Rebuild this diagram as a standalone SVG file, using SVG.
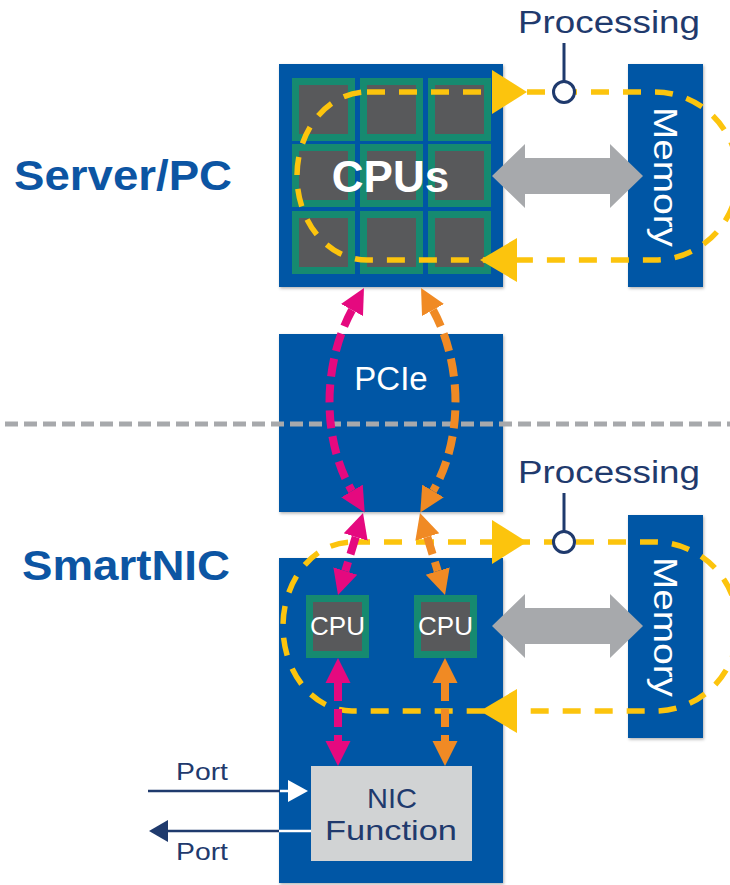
<svg xmlns="http://www.w3.org/2000/svg" width="730" height="885" viewBox="0 0 730 885">
<style>
.box{fill:#0356a5;filter:url(#sh)}
.cell{fill:#168a70}
.core{fill:#58595b}
.mem{fill:#0356a5;filter:url(#sh)}
.wt{fill:#ffffff;font-family:"Liberation Sans",Arial,sans-serif}
.nv{fill:#1f3a6d;font-family:"Liberation Sans",Arial,sans-serif}
.title{fill:#0c55a3;font-family:"Liberation Sans",Arial,sans-serif;font-weight:bold;font-size:42px}
.loop{fill:none;stroke:#fcc40d;stroke-width:5.5;stroke-dasharray:18 14}
.yh{fill:#fcc40d}
.pk{fill:none;stroke:#e5097f;stroke-width:8;stroke-dasharray:18 8}
.og{fill:none;stroke:#f08a24;stroke-width:8;stroke-dasharray:18 8}
.gray{fill:#a7a9ac}
.sep{stroke:#a7a9ac;stroke-width:5;stroke-dasharray:13 6;fill:none}
</style>
<defs>
<filter id="sh" x="-10%" y="-10%" width="120%" height="120%">
<feDropShadow dx="1" dy="1.5" stdDeviation="1.5" flood-color="#000" flood-opacity="0.3"/>
</filter>
<marker id="mp" markerUnits="userSpaceOnUse" markerWidth="26" markerHeight="26" viewBox="0 -13 26 26" refX="0" refY="0" orient="auto-start-reverse">
<path d="M0,-12.5 L25,0 L0,12.5Z" fill="#e5097f"/>
</marker>
<marker id="mo" markerUnits="userSpaceOnUse" markerWidth="26" markerHeight="26" viewBox="0 -13 26 26" refX="0" refY="0" orient="auto-start-reverse">
<path d="M0,-12.5 L25,0 L0,12.5Z" fill="#f08a24"/>
</marker>
</defs>
<rect width="730" height="885" fill="#ffffff"/>

<g id="label-server"><text class="title" x="14" y="190" textLength="218" lengthAdjust="spacingAndGlyphs">Server/PC</text></g>
<g id="label-smartnic"><text class="title" x="22" y="580" textLength="208" lengthAdjust="spacingAndGlyphs">SmartNIC</text></g>

<g id="server-cpus">
<rect class="box" x="279" y="64" width="224" height="223"/>
<rect class="cell" x="292" y="78" width="63" height="63"/><rect class="core" x="299" y="85" width="49" height="49"/>
<rect class="cell" x="360" y="78" width="63" height="63"/><rect class="core" x="367" y="85" width="49" height="49"/>
<rect class="cell" x="428" y="78" width="63" height="63"/><rect class="core" x="435" y="85" width="49" height="49"/>
<rect class="cell" x="292" y="144" width="63" height="63"/><rect class="core" x="299" y="151" width="49" height="49"/>
<rect class="cell" x="360" y="144" width="63" height="63"/><rect class="core" x="367" y="151" width="49" height="49"/>
<rect class="cell" x="428" y="144" width="63" height="63"/><rect class="core" x="435" y="151" width="49" height="49"/>
<rect class="cell" x="292" y="211" width="63" height="63"/><rect class="core" x="299" y="218" width="49" height="49"/>
<rect class="cell" x="360" y="211" width="63" height="63"/><rect class="core" x="367" y="218" width="49" height="49"/>
<rect class="cell" x="428" y="211" width="63" height="63"/><rect class="core" x="435" y="218" width="49" height="49"/>
<text class="wt" x="390.5" y="192" font-size="44" font-weight="bold" text-anchor="middle">CPUs</text>
</g>

<g id="server-memory">
<rect class="mem" x="628" y="64" width="75" height="223"/>
<text class="wt" font-size="34" text-anchor="middle" transform="translate(654,177) rotate(90)" textLength="140" lengthAdjust="spacingAndGlyphs">Memory</text>
</g>

<g id="pcie">
<rect class="box" x="279" y="334" width="224" height="178"/>
<text class="wt" x="391" y="390" font-size="33" text-anchor="middle">PCIe</text>
</g>

<g id="smartnic">
<rect class="box" x="279" y="558" width="224" height="325"/>
</g>

<g id="nic-cpu1">
<rect class="cell" x="306" y="595" width="63" height="63"/><rect class="core" x="313" y="602" width="49" height="49"/>
<text class="wt" x="337.5" y="635" font-size="26" text-anchor="middle">CPU</text>
</g>
<g id="nic-cpu2">
<rect class="cell" x="414" y="595" width="63" height="63"/><rect class="core" x="421" y="602" width="49" height="49"/>
<text class="wt" x="445.5" y="635" font-size="26" text-anchor="middle">CPU</text>
</g>

<g id="nic-function">
<rect x="311" y="766" width="161" height="95" fill="#d1d3d4"/>
<text class="nv" x="392" y="808" font-size="28" text-anchor="middle" textLength="50" lengthAdjust="spacingAndGlyphs">NIC</text>
<text class="nv" x="391" y="840" font-size="28" text-anchor="middle" textLength="132" lengthAdjust="spacingAndGlyphs">Function</text>
</g>

<g id="nic-memory">
<rect class="mem" x="628" y="515" width="75" height="223"/>
<text class="wt" font-size="34" text-anchor="middle" transform="translate(654,627) rotate(90)" textLength="140" lengthAdjust="spacingAndGlyphs">Memory</text>
</g>

<g id="processing-1">
<text class="nv" x="518" y="33" font-size="31" textLength="182" lengthAdjust="spacingAndGlyphs">Processing</text>
</g>
<g id="processing-2">
<text class="nv" x="518" y="483" font-size="31" textLength="182" lengthAdjust="spacingAndGlyphs">Processing</text>
</g>

<g id="port-labels">
<text class="nv" x="176" y="780" font-size="23" textLength="52" lengthAdjust="spacingAndGlyphs">Port</text>
<text class="nv" x="176" y="860" font-size="23" textLength="52" lengthAdjust="spacingAndGlyphs">Port</text>
</g>

<g id="connectors">
<line class="sep" x1="5" y1="424" x2="730" y2="424"/>
<polygon class="gray" points="492,176 525,144 525,158 610,158 610,144 643,176 610,208 610,194 525,194 525,208"/>
<polygon class="gray" points="492,626 525,594 525,608 610,608 610,594 643,626 610,658 610,644 525,644 525,658"/>
<path class="loop" d="M367,92 L655,92 A83,84 0 0 1 655,260 L367,260 A70,84 0 0 1 367,92 Z"/>
<polygon class="yh" points="527,92 492,70 492,114"/>
<polygon class="yh" points="480,260 517,238 517,282"/>
<path class="loop" d="M352,542 L655,542 A83,84.5 0 0 1 655,711 L352,711 A69,84.5 0 0 1 352,542 Z"/>
<polygon class="yh" points="527,542 492,520 492,564"/>
<polygon class="yh" points="480,711 517,689 517,733"/>
<line x1="564" y1="43" x2="564" y2="81" stroke="#1f3a6d" stroke-width="3"/>
<circle cx="564" cy="92" r="10.5" fill="#ffffff" stroke="#1f3a6d" stroke-width="3"/>
<line x1="564" y1="493" x2="564" y2="531" stroke="#1f3a6d" stroke-width="3"/>
<circle cx="564" cy="542" r="10.5" fill="#ffffff" stroke="#1f3a6d" stroke-width="3"/>
<path class="pk" d="M352,310 C322,365 322,440 352,491" marker-start="url(#mp)" marker-end="url(#mp)"/>
<path class="og" d="M433,310 C463,365 463,440 433,491" marker-start="url(#mo)" marker-end="url(#mo)"/>
<path class="pk" d="M355.7,537 L345.3,571" marker-start="url(#mp)" marker-end="url(#mp)"/>
<path class="og" d="M427.3,537 L437.7,571" marker-start="url(#mo)" marker-end="url(#mo)"/>
<path class="pk" d="M338,683 L338,741" marker-start="url(#mp)" marker-end="url(#mp)"/>
<path class="og" d="M445,683 L445,741" marker-start="url(#mo)" marker-end="url(#mo)"/>
<line x1="148" y1="791" x2="280" y2="791" stroke="#1f3a6d" stroke-width="2.5"/>
<line x1="280" y1="791" x2="292" y2="791" stroke="#ffffff" stroke-width="2.5"/>
<polygon points="308,791 288,780 288,802" fill="#ffffff"/>
<line x1="311" y1="831" x2="279" y2="831" stroke="#ffffff" stroke-width="2.5"/>
<line x1="279" y1="831" x2="164" y2="831" stroke="#1f3a6d" stroke-width="2.5"/>
<polygon points="149,831 168,820 168,842" fill="#1f3a6d"/>
</g>
</svg>
